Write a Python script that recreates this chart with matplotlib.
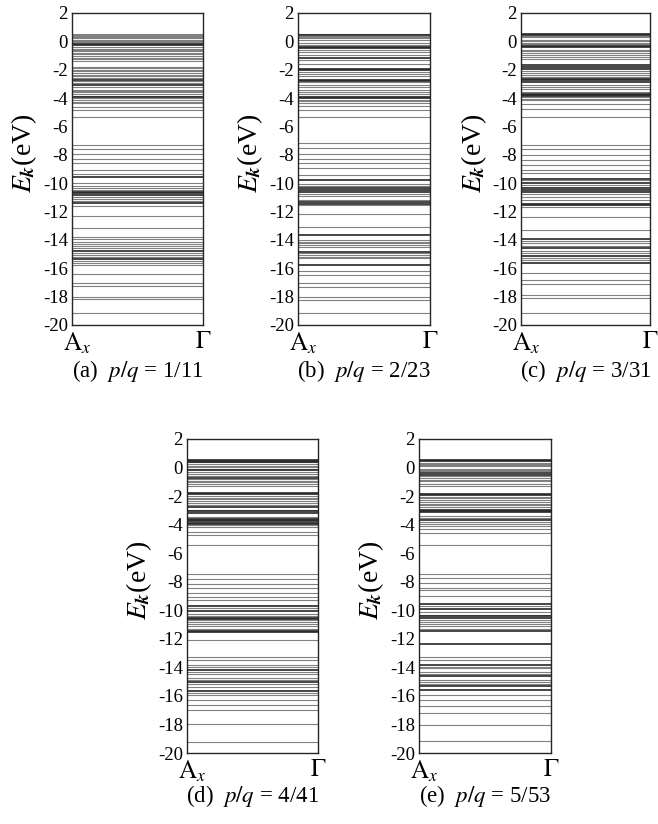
import matplotlib
matplotlib.use("Agg")
import matplotlib.pyplot as plt
from matplotlib.transforms import ScaledTranslation

plt.rcParams["font.family"] = ["Liberation Serif", "DejaVu Serif"]
plt.rcParams["mathtext.fontset"] = "stix"

# energy levels (eV): light = thin grey, dark = dense/black
levels_a = [0.54, 0.45, 0.36, 0.29, 0.22, 0.12, 0.03, -0.05, -0.39, -0.52,
            -0.60, -0.68, -0.80, -0.91, -1.05, -1.15, -1.27, -1.38, -1.80,
            -1.90, -1.99, -2.10, -2.23, -2.35, -2.46, -2.58, -2.80, -2.93,
            -3.25, -3.40, -3.50, -3.60, -3.73, -3.82, -4.02, -4.10, -4.25,
            -4.38, -4.62, -4.81, -5.32, -7.34, -7.62, -7.95, -8.33, -8.56,
            -9.08, -9.35, -9.97, -10.20, -10.37, -10.50, -10.95, -11.15, -11.28,
            -11.60, -12.32, -13.19, -13.82, -13.95, -14.13, -14.28, -14.43,
            -14.60, -14.90, -15.07, -15.22, -15.50, -15.60, -15.77, -16.40,
            -17.01, -17.25, -18.00, -18.19, -19.17]
dark_a = [-0.16, -0.25, -2.69, -3.09, -3.92, -9.55, -10.61, -10.72, -10.84,
          -11.43, -14.76, -15.37]

levels_b = [0.54, 0.40, 0.31, 0.22, 0.12, -0.11, -0.25, -0.58, -0.75, -0.95,
            -1.29, -1.57, -2.15, -2.32, -2.45, -2.86, -3.09, -3.25, -3.40,
            -3.55, -3.68, -4.10, -4.20, -4.34, -4.57, -4.85, -5.32, -7.20,
            -7.55, -7.95, -8.33, -8.61, -8.96, -9.43, -10.07, -10.20, -10.77,
            -10.90, -11.19, -11.54, -12.18, -13.07, -14.00, -14.12, -14.24,
            -14.36, -14.48, -14.95, -15.07, -15.18, -15.30, -16.17, -16.48,
            -17.06, -17.34, -18.00, -18.23, -19.17]
dark_b = [0.45, -0.39, -0.45, -1.15, -1.92, -2.02, -2.69, -2.78, -3.92, -4.00,
          -9.78, -10.37, -10.48, -10.61, -11.36, -11.45, -13.66, -14.83,
          -15.77]

levels_c = [0.36, 0.28, 0.12, 0.02, -0.11, -0.22, -0.58, -0.70, -0.82, -0.98,
            -1.10, -1.22, -2.08, -2.20, -2.39, -2.50, -3.09, -3.20, -3.33,
            -3.55, -3.92, -4.05, -4.15, -4.43, -4.74, -5.32, -7.34, -7.62,
            -8.02, -8.38, -8.73, -9.08, -9.31, -9.80, -10.15, -10.75, -10.96,
            -11.19, -11.66, -12.37, -13.31, -14.08, -14.24, -14.40, -14.80,
            -14.95, -15.30, -15.42, -16.31, -16.83, -17.11, -17.88, -18.12,
            -19.17]
dark_c = [0.54, 0.48, -0.35, -0.42, -1.69, -1.80, -1.92, -2.62, -2.70, -2.86,
          -3.68, -3.76, -3.84, -9.67, -9.97, -10.37, -10.50, -10.61, -11.47,
          -11.54, -13.96, -14.60, -15.14, -15.65]

levels_d = [0.36, 0.28, 0.13, 0.02, -0.11, -0.34, -0.46, -0.58, -0.81, -0.92,
            -1.04, -1.16, -1.28, -1.98, -2.10, -2.22, -2.33, -2.45, -2.60,
            -2.96, -3.43, -4.05, -4.18, -4.49, -4.72, -5.42, -7.46, -7.84,
            -8.16, -8.47, -8.82, -9.05, -9.29, -9.85, -10.27, -10.40, -10.65,
            -10.80, -10.93, -11.12, -11.30, -12.10, -13.27, -13.51, -13.86,
            -14.00, -14.30, -14.44, -14.72, -14.90, -15.20, -15.38, -15.80,
            -15.96, -16.31, -16.67, -17.02, -18.00, -19.24]
dark_d = [0.55, 0.48, 0.42, -0.20, -0.70, -1.75, -1.85, -2.78, -3.15, -3.05,
          -3.62, -3.70, -3.78, -3.86, -3.95, -9.71, -10.04, -10.51, -10.58,
          -11.52, -11.45, -14.16, -15.03, -15.66]

levels_e = [0.50, 0.35, 0.27, 0.18, 0.08, -0.10, -0.20, -0.27, -0.62, -0.73,
            -0.85, -0.97, -1.13, -1.32, -2.07, -2.16, -2.25, -2.38, -2.53,
            -2.65, -2.77, -3.42, -3.55, -3.84, -3.95, -4.07, -4.31, -4.59,
            -5.41, -7.44, -7.74, -8.09, -8.44, -8.61, -9.03, -9.70, -10.15,
            -10.30, -10.66, -10.80, -10.94, -11.13, -11.30, -13.28, -13.51,
            -13.95, -14.05, -14.29, -14.45, -14.87, -15.06, -15.20, -15.92,
            -16.32, -16.74, -17.21, -18.02, -19.19]
dark_e = [0.55, 0.43, -0.50, -0.40, -1.83, -1.93, -2.95, -3.05, -3.14, -3.70,
          -9.54, -9.92, -10.43, -10.52, -11.48, -12.35, -13.82, -14.59,
          -15.34, -15.62]

captions = ["(a)  $p/q$ = 1/11", "(b)  $p/q$ = 2/23", "(c)  $p/q$ = 3/31",
            "(d)  $p/q$ = 4/41", "(e)  $p/q$ = 5/53"]
yticks = list(range(2, -21, -2))
xtick_labels = [r"$\mathrm{A}_{x}$", r"$\Gamma$"]

panels = [(levels_a, dark_a), (levels_b, dark_b), (levels_c, dark_c),
          (levels_d, dark_d), (levels_e, dark_e)]

W, H = 658, 824
# axes boxes in pixels: left, top, right, bottom
boxes = [(72, 13, 203, 325), (298, 13, 430, 325), (521, 13, 650, 325),
         (187, 439, 318, 753), (419, 439, 551, 753)]
caption_y = [371, 371, 371, 796, 796]

fig = plt.figure(figsize=(W / 100, H / 100), dpi=100)
for (light, dark), cap, (l, t, r, b), cy in zip(panels, captions, boxes,
                                                 caption_y):
    ax = fig.add_axes([l / W, 1 - b / H, (r - l) / W, (b - t) / H])
    ax.hlines(light, 0, 1, color="0.5", lw=0.8)
    ax.hlines(dark, 0, 1, color="0.15", lw=1.2)
    ax.set_xlim(0, 1)
    ax.set_ylim(-20, 2)
    ax.set_yticks(yticks)
    ax.set_yticklabels([str(v) for v in yticks], fontsize=13.5)
    ax.set_xticks([0, 1])
    ax.set_xticklabels(xtick_labels, fontsize=18)
    ax.tick_params(axis="y", length=0, pad=3)
    ax.tick_params(axis="x", length=0, pad=4)
    lab = ax.get_xticklabels()
    lab[0].set_transform(lab[0].get_transform() +
                         ScaledTranslation(4 / 72, 0, fig.dpi_scale_trans))
    for s in ax.spines.values():
        s.set_linewidth(1.0)
        s.set_color("0.15")
    ax.set_ylabel(r"$E_{\mathbfit{k}}$(eV)", fontsize=20)
    ax.yaxis.set_label_coords(-0.25, 0.55)
    fig.text((l + r) / 2 / W, 1 - cy / H, cap, ha="center", va="center",
             fontsize=16.5)

fig.savefig("out.png", dpi=100)
